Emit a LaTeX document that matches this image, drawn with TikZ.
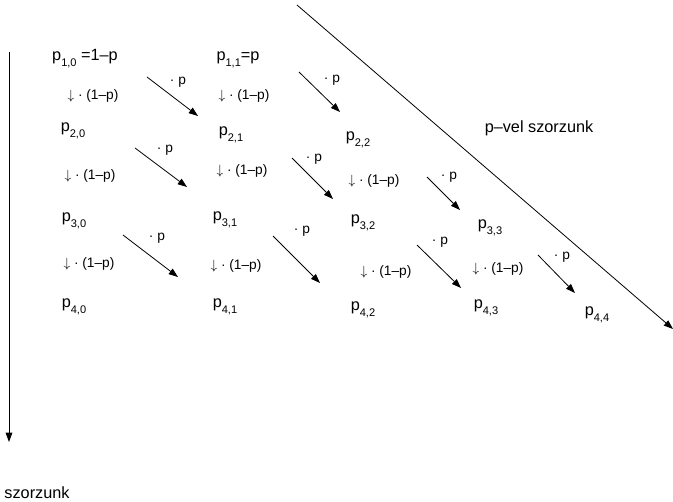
\documentclass[tikz,border=0pt]{standalone}
\usepackage{fontspec}
\setmainfont{Liberation Sans}
\usetikzlibrary{arrows.meta}
\tikzset{vec/.style={-{Triangle[length=7pt,width=5pt]},semithick},
         pval/.style={inner sep=0pt,font=\fontsize{12.2}{14}\selectfont},
         lbl/.style={inner sep=0pt,font=\fontsize{10.3}{12}\selectfont}}
\newcommand{\psub}[1]{p\raisebox{-4.6pt}{\fontsize{8.3}{9}\selectfont #1}}
\newcommand{\dn}{$\downarrow$ · (1–p)}

\begin{document}
\begin{tikzpicture}[x=0.75pt,y=-0.75pt]
\useasboundingbox (0,0) rectangle (673,502);
% the values p_{n,k}
\node[pval] (p10) at (85,59) {\psub{1,0} =1–p};
\node[pval] (p11) at (238,60) {\psub{1,1}=p};
\node[pval] (p20) at (73,131) {\psub{2,0}};
\node[pval] (p21) at (231,135) {\psub{2,1}};
\node[pval] (p22) at (358,140) {\psub{2,2}};
\node[pval] (p30) at (74,221) {\psub{3,0}};
\node[pval] (p31) at (225,220) {\psub{3,1}};
\node[pval] (p32) at (363,223) {\psub{3,2}};
\node[pval] (p33) at (490,228) {\psub{3,3}};
\node[pval] (p40) at (74,307) {\psub{4,0}};
\node[pval] (p41) at (225,307) {\psub{4,1}};
\node[pval] (p42) at (363,310) {\psub{4,2}};
\node[pval] (p43) at (486,308) {\psub{4,3}};
\node[pval] (p44) at (597,315) {\psub{4,4}};
% straight down: times (1-p)
\node[lbl] (d10) at (93,96) {\dn};
\node[lbl] (d11) at (244,96) {\dn};
\node[lbl] (d20) at (90,176) {\dn};
\node[lbl] (d21) at (242,171) {\dn};
\node[lbl] (d22) at (374,181) {\dn};
\node[lbl] (d30) at (89,264) {\dn};
\node[lbl] (d31) at (236,266) {\dn};
\node[lbl] (d32) at (386,272) {\dn};
\node[lbl] (d33) at (498,269) {\dn};
% down and right: times p
\coordinate (s10) at (147,77);  \coordinate (t10) at (198,116);
\coordinate (s11) at (299,72);  \coordinate (t11) at (340,112);
\coordinate (s20) at (135,148); \coordinate (t20) at (187,187);
\coordinate (s21) at (292,158); \coordinate (t21) at (333,199);
\coordinate (s22) at (427,177); \coordinate (t22) at (460,210);
\coordinate (s30) at (123,235); \coordinate (t30) at (178,277);
\coordinate (s31) at (273,236); \coordinate (t31) at (320,283);
\coordinate (s32) at (417,245); \coordinate (t32) at (461,288);
\coordinate (s33) at (538,255); \coordinate (t33) at (575,293);
\draw[vec] (s10)--(t10);
\draw[vec] (s11)--(t11);
\draw[vec] (s20)--(t20);
\draw[vec] (s21)--(t21);
\draw[vec] (s22)--(t22);
\draw[vec] (s30)--(t30);
\draw[vec] (s31)--(t31);
\draw[vec] (s32)--(t32);
\draw[vec] (s33)--(t33);
\node[lbl] (m10) at (178,82) {· p};
\node[lbl] (m11) at (332,80) {· p};
\node[lbl] (m20) at (165,150) {· p};
\node[lbl] (m21) at (314,159) {· p};
\node[lbl] (m22) at (449,177) {· p};
\node[lbl] (m30) at (157,238) {· p};
\node[lbl] (m31) at (302,231) {· p};
\node[lbl] (m32) at (440,242) {· p};
\node[lbl] (m33) at (562,257) {· p};
% the two long arrows
\coordinate (vtop) at (9,52);   \coordinate (vbot) at (9,442);
\coordinate (dtop) at (297,5);  \coordinate (dbot) at (673,329);
\draw[vec] (vtop)--(vbot);
\draw[vec] (dtop)--(dbot);
\node[pval] (szl) at (37,493) {szorzunk};
\node[pval] (szr) at (539,128) {p–vel szorzunk};
\end{tikzpicture}
\end{document}
